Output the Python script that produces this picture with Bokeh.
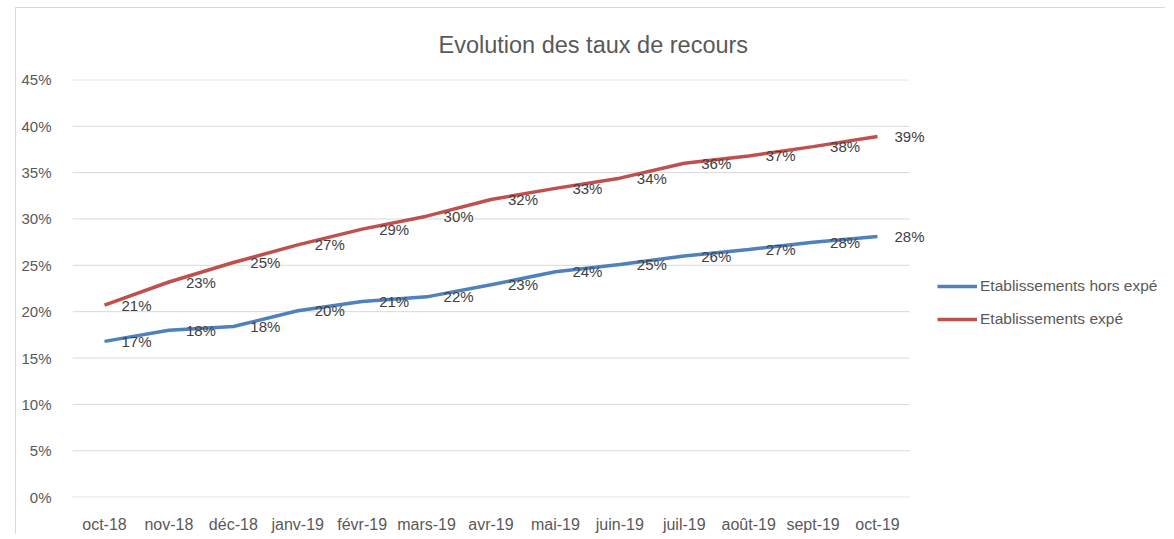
from bokeh.plotting import figure
from bokeh.models import (ColumnDataSource, LabelSet, Legend, LegendItem, NumeralTickFormatter,
                          Range1d, FixedTicker, Title)
from bokeh.core.properties import value
from bokeh.embed import file_html
from bokeh.resources import INLINE

months = ["oct-18", "nov-18", "déc-18", "janv-19", "févr-19", "mars-19", "avr-19",
          "mai-19", "juin-19", "juil-19", "août-19", "sept-19", "oct-19"]
hors_expe = [0.168, 0.180, 0.184, 0.201, 0.211, 0.216, 0.229, 0.243, 0.251, 0.260, 0.267, 0.275, 0.281]
expe = [0.207, 0.232, 0.253, 0.272, 0.289, 0.303, 0.321, 0.333, 0.344, 0.360, 0.368, 0.378, 0.389]
series_names = ["Etablissements hors expé", "Etablissements expé"]
y_ticks = [0.0, 0.05, 0.10, 0.15, 0.20, 0.25, 0.30, 0.35, 0.40, 0.45]
colors = ["#4F81BD", "#C0504D"]

FONT = "Liberation Sans"
TXT = "#595959"

# layout (page pixels)
OX, OY = 15, 7            # outer chart border
W, H = 1150, 527          # figure size (inside the border)
LEFT, TOP, BOTTOM, RIGHT = 72, 78, 498, 1161
STEP = (877 - 104) / 12.0
x_start = -(104 - LEFT) / STEP
x_end = x_start + (RIGHT - LEFT) / STEP
bx, by = OX + 1, OY + 1

def fmt(v):
    return f"{round(v * 100):d}%"

idx = list(range(len(months)))
src_a = ColumnDataSource(dict(x=idx, y=hors_expe, lab=[fmt(v) for v in hors_expe]))
src_b = ColumnDataSource(dict(x=idx, y=expe, lab=[fmt(v) for v in expe]))

eps = 0.0004
p = figure(width=W, height=H, x_range=Range1d(x_start, x_end),
           y_range=Range1d(y_ticks[0] - eps, y_ticks[-1] + eps),
           output_backend="svg", toolbar_location=None,
           min_border_left=LEFT - bx, min_border_right=W - (RIGHT - bx), min_border_top=TOP - by,
           min_border_bottom=H - (BOTTOM - by))
p.margin = (OY, 0, 0, OX)
p.styles = {"border-left": "1px solid #d9d9d9", "border-top": "1px solid #d9d9d9"}
p.outline_line_color = None
p.background_fill_color = "white"
p.border_fill_color = "white"

t = Title(text="Evolution des taux de recours", align="left", offset=438 - LEFT,
          text_font=FONT, text_font_size="23.5px", text_color=TXT, text_font_style="normal",
          standoff=43)
p.add_layout(t, "above")

n = len(months)
p.segment(x0=[-0.5] * len(y_ticks), x1=[n - 0.5] * len(y_ticks), y0=y_ticks, y1=y_ticks,
          line_color="#d9d9d9", line_width=1)

r1 = p.line("x", "y", source=src_a, line_color=colors[0], line_width=3.5)
r2 = p.line("x", "y", source=src_b, line_color=colors[1], line_width=3.5)

for s in (src_a, src_b):
    p.add_layout(LabelSet(x="x", y="y", text="lab", source=s, x_offset=17, y_offset=0,
                          text_baseline="middle", text_align="left",
                          text_font=value(FONT), text_font_size="15px", text_color="#404040"))

p.xaxis.ticker = FixedTicker(ticks=idx)
p.xaxis.major_label_overrides = {i: m for i, m in zip(idx, months)}
p.yaxis.ticker = FixedTicker(ticks=y_ticks)
p.yaxis.formatter = NumeralTickFormatter(format="0%")
for ax in (p.xaxis[0], p.yaxis[0]):
    ax.axis_line_color = None
    ax.major_tick_line_color = None
    ax.minor_tick_line_color = None
    ax.major_label_text_font = FONT
    ax.major_label_text_color = TXT
p.yaxis.major_label_text_font_size = "15px"
p.xaxis.major_label_text_font_size = "16px"
p.yaxis.major_label_standoff = 15
p.xaxis.major_label_standoff = 12
p.xgrid.grid_line_color = None
p.ygrid.grid_line_color = None

legend = Legend(items=[LegendItem(label=series_names[0], renderers=[r1]),
                       LegendItem(label=series_names[1], renderers=[r2])],
                location=(937 - LEFT, BOTTOM - 330), glyph_width=40, label_standoff=3,
                spacing=13, border_line_color=None, background_fill_alpha=0, padding=10,
                label_text_font=FONT, label_text_font_size="15.5px", label_text_color=TXT)
p.add_layout(legend, "center")

open("out.html", "w").write(file_html(p, INLINE))
